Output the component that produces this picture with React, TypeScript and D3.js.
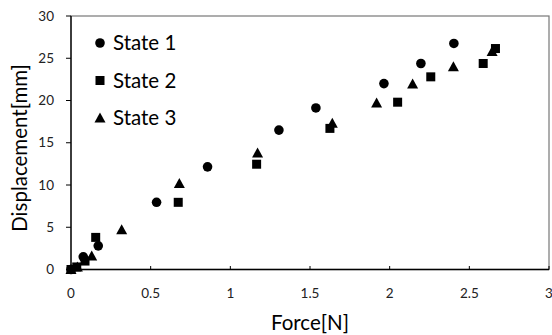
import React from "react";
import * as d3 from "d3";

const xTicks = [0, 0.5, 1, 1.5, 2, 2.5, 3];
const yTicks = [0, 5, 10, 15, 20, 25, 30];
const seriesNames = ["State 1", "State 2", "State 3"];

const state1X = [0, 0.077, 0.171, 0.537, 0.857, 1.305, 1.537, 1.964, 2.196, 2.403];
const state1Y = [0, 1.5, 2.8, 7.95, 12.15, 16.5, 19.12, 22.0, 24.38, 26.75];

const state2X = [0, 0.036, 0.088, 0.155, 0.673, 1.165, 1.625, 2.05, 2.258, 2.587, 2.664];
const state2Y = [0, 0.3, 1.0, 3.8, 7.95, 12.46, 16.7, 19.8, 22.8, 24.38, 26.15];

const state3X = [0, 0.04, 0.13, 0.318, 0.68, 1.171, 1.64, 1.918, 2.144, 2.4, 2.643];
const state3Y = [0, 0.3, 1.6, 4.7, 10.18, 13.8, 17.3, 19.7, 21.95, 24.0, 25.8];

const W = 552;
const H = 335;
const L = 71, R = 549, T = 16, B = 269.5;

export default function App() {
  const x = d3.scaleLinear().domain([0, 3]).range([L, R]);
  const y = d3.scaleLinear().domain([0, 30]).range([B, T]);
  const font = "Lato, 'Open Sans', sans-serif";

  const circle = (cx: number, cy: number, k: string) => (
    <circle key={k} cx={cx} cy={cy} r={4.8} fill="#000" />
  );
  const square = (cx: number, cy: number, k: string) => (
    <rect key={k} x={cx - 4.5} y={cy - 4.5} width={9} height={9} fill="#000" />
  );
  const tri = (cx: number, cy: number, k: string) => (
    <path key={k} d={`M${cx},${cy - 5.5}L${cx + 5.5},${cy + 4.5}L${cx - 5.5},${cy + 4.5}Z`} fill="#000" />
  );
  const markers = [circle, square, tri];
  const data: [number[], number[]][] = [
    [state1X, state1Y],
    [state2X, state2Y],
    [state3X, state3Y],
  ];

  return (
    <svg width={W} height={H} style={{ position: "absolute", left: 0, top: 0 }}>
      <rect x={0} y={0} width={W} height={H} fill="#fff" />
      <rect x={L} y={T} width={R - L} height={B - T} fill="none" stroke="#777" strokeWidth={1.2} />
      <line x1={L} x2={L} y1={T} y2={B} stroke="#000" strokeWidth={1.3} />
      <line x1={L} x2={R} y1={B} y2={B} stroke="#000" strokeWidth={1.3} />
      {yTicks.map((t) => (
        <g key={"y" + t}>
          <line x1={L - 5} x2={L} y1={y(t)} y2={y(t)} stroke="#000" strokeWidth={1} />
          <text x={54} y={y(t)} dy="0.35em" textAnchor="end" fontFamily={font} fontSize={13.5} fill="#222">
            {t}
          </text>
        </g>
      ))}
      {xTicks.map((t) => (
        <g key={"x" + t}>
          <line x1={x(t)} x2={x(t)} y1={B - 3.5} y2={B} stroke="#000" strokeWidth={1} />
          <text x={x(t)} y={298} textAnchor="middle" fontFamily={font} fontSize={13.5} fill="#222">
            {t}
          </text>
        </g>
      ))}
      <text x={(L + R) / 2} y={330} textAnchor="middle" fontFamily={font} fontSize={20.5} fill="#000">
        Force[N]
      </text>
      <text
        transform={`translate(27,148) rotate(-90)`}
        textAnchor="middle"
        fontFamily={font}
        fontSize={20.5}
        fill="#000"
      >
        Displacement[mm]
      </text>
      {data.map(([xs, ys], si) => (
        <g key={"s" + si}>
          {xs.map((v, i) => markers[si](x(v), y(ys[i]), si + "-" + i))}
        </g>
      ))}
      {seriesNames.map((n, i) => (
        <g key={"lg" + i}>
          {markers[i](100, 43 + i * 37.5, "lm" + i)}
          <text x={113} y={43 + i * 37.5} dy="0.36em" fontFamily={font} fontSize={20.5} fill="#000">
            {n}
          </text>
        </g>
      ))}
    </svg>
  );
}
